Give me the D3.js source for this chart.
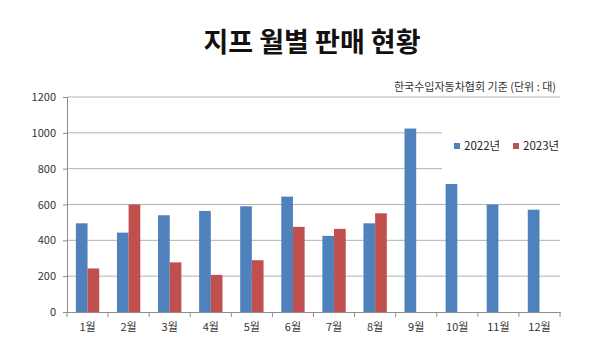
<!DOCTYPE html>
<html>
<head>
<meta charset="utf-8">
<script src="https://cdn.jsdelivr.net/npm/d3@7/dist/d3.min.js"></script>
<style>
  body { margin: 0; background: #fff; }
  text { font-family: "Noto Sans CJK KR", "Noto Sans", sans-serif; fill: #222; }
</style>
</head>
<body>
<div id="chart"></div>
<script>
// monthly sales
var months = ["1월", "2월", "3월", "4월", "5월", "6월", "7월", "8월", "9월", "10월", "11월", "12월"];
var series = ["2022년", "2023년"];
var sales2022 = [495, 443, 540, 564, 590, 644, 425, 495, 1024, 767, 600, 571];
var sales2023 = [243, 600, 277, 207, 289, 475, 464, 551, null, null, null, null];
var yTicks = [0, 200, 400, 600, 800, 1000, 1200];
var colours = ["#4f81bd", "#c0504d"];

var width = 600, height = 353;
// plot area edges (window.top is reserved, so prefixed names)
var plot_left = 67, plot_right = 560, plot_top = 97, plot_bottom = 312;

var svg = d3.select("#chart").append("svg")
    .attr("width", width)
    .attr("height", height);

var x = d3.scaleBand().domain(months).range([plot_left, plot_right]).padding(0);
var xs = d3.scaleBand().domain(series).range([0, x.bandwidth()]).paddingOuter(0.76).paddingInner(0);
var y = d3.scaleLinear().domain([0, 1200]).range([plot_bottom, plot_top]);

// title
svg.append("text")
    .attr("x", 312)
    .attr("y", 52)
    .attr("text-anchor", "middle")
    .style("font-size", "27px")
    .style("font-weight", "bold")
    .style("fill", "#111")
    .text("지프 월별 판매 현황");

svg.append("text")
    .attr("x", 556)
    .attr("y", 91)
    .attr("text-anchor", "end")
    .style("font-size", "11px")
    .style("fill", "#333")
    .text("한국수입자동차협회 기준 (단위 : 대)");

// gridlines
svg.append("g").selectAll("line")
    .data(yTicks.filter(function(d) { return d > 0; }))
    .enter().append("line")
    .attr("x1", plot_left).attr("x2", plot_right)
    .attr("y1", function(d) { return y(d); })
    .attr("y2", function(d) { return y(d); })
    .style("stroke", "#b3b3b3")
    .style("stroke-width", 1);

// bars
var rows = months.map(function(m, i) {
    return { month: m, values: [sales2022[i], sales2023[i]] };
});
var g = svg.append("g").selectAll("g")
    .data(rows)
    .enter().append("g")
    .attr("transform", function(d) { return "translate(" + x(d.month) + ",0)"; });
g.selectAll("rect")
    .data(function(d) {
        return d.values.map(function(v, i) { return { key: series[i], value: v, i: i }; })
            .filter(function(e) { return e.value != null; });
    })
    .enter().append("rect")
    .attr("x", function(d) { return xs(d.key); })
    .attr("width", xs.bandwidth())
    .attr("y", function(d) { return y(d.value); })
    .attr("height", function(d) { return y(0) - y(d.value); })
    .style("fill", function(d) { return colours[d.i]; });

// y axis
var yAxis = svg.append("g")
    .attr("transform", "translate(" + plot_left + ",0)")
    .call(d3.axisLeft(y).tickValues(yTicks).tickSize(4).tickFormat(d3.format("d")));
yAxis.select(".domain").style("stroke", "#8c8c8c");
yAxis.selectAll(".tick line").style("stroke", "#8c8c8c");
yAxis.selectAll(".tick text")
    .attr("x", -11)
    .style("font-size", "11px")
    .style("fill", "#333");

// x axis
var xAxis = svg.append("g")
    .attr("transform", "translate(0," + plot_bottom + ")")
    .call(d3.axisBottom(x).tickSize(0).tickPadding(11));
xAxis.select(".domain").style("stroke", "#8c8c8c");
xAxis.selectAll(".tick text")
    .style("font-size", "11px")
    .style("fill", "#333");
xAxis.selectAll(".sep")
    .data(months.map(function(m) { return x(m); }).concat([plot_right]))
    .enter().append("line")
    .attr("class", "sep")
    .attr("x1", function(d) { return d; }).attr("x2", function(d) { return d; })
    .attr("y1", 0).attr("y2", 5)
    .style("stroke", "#8c8c8c");

// legend
var legend = svg.append("g");
legend.append("rect")
    .attr("x", 442).attr("y", 112)
    .attr("width", 123).attr("height", 72)
    .style("fill", "#fff");
var item = legend.selectAll(".item")
    .data(series)
    .enter().append("g")
    .attr("class", "item")
    .attr("transform", function(d, i) { return "translate(" + (454 + i * 59) + ",146)"; });
item.append("rect")
    .attr("x", 0).attr("y", -3)
    .attr("width", 6).attr("height", 6)
    .style("fill", function(d, i) { return colours[i]; });
item.append("text")
    .attr("x", 10)
    .attr("y", 4)
    .style("font-size", "11.5px")
    .style("fill", "#222")
    .text(function(d) { return d; });
</script>
</body>
</html>
